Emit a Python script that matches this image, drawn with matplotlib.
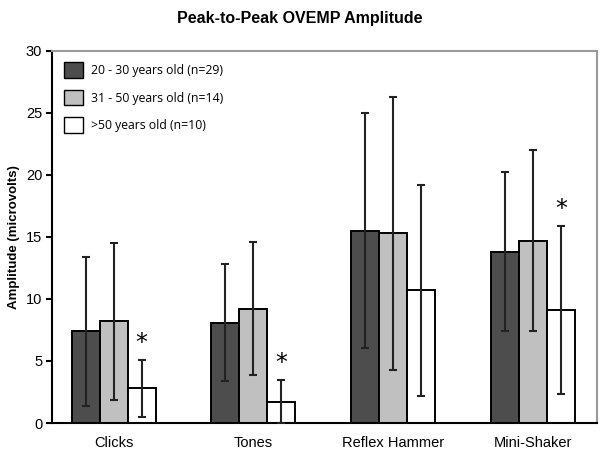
import numpy as np
import matplotlib.pyplot as plt
from matplotlib.patches import Patch

categories = ['Clicks', 'Tones', 'Reflex Hammer', 'Mini-Shaker']
groups = ['20 - 30 years old (n=29)', '31 - 50 years old (n=14)', '>50 years old (n=10)']

young = [7.4, 8.1, 15.5, 13.8]
middle = [8.2, 9.2, 15.3, 14.7]
old = [2.8, 1.7, 10.7, 9.1]

young_err = [6.0, 4.7, 9.45, 6.4]
middle_err = [6.35, 5.37, 11.0, 7.3]
old_err = [2.3, 1.8, 8.5, 6.75]

significant = [True, True, False, True]

colors = ['#4d4d4d', '#c0c0c0', '#ffffff']

fig = plt.figure(figsize=(6, 4.55), dpi=100)
ax = fig.add_axes([0.0867, 0.0703, 0.908, 0.818])

x = np.arange(len(categories))
w = 0.2
series = [young, middle, old]
errs = [young_err, middle_err, old_err]
for i, (vals, err) in enumerate(zip(series, errs)):
    pos = x + (i - 1) * w
    ax.bar(pos, vals, w, color=colors[i], edgecolor='black', linewidth=1.4, zorder=2)
    lower = np.minimum(err, vals)
    ax.errorbar(pos, vals, yerr=[lower, err], fmt='none', ecolor='#222222',
                elinewidth=1.5, capsize=3, capthick=1.5, zorder=3)

for j in range(len(categories)):
    if significant[j]:
        ax.text(x[j] + w, old[j] + old_err[j] + 0.4, '*', ha='center', va='bottom',
                fontsize=17, family='DejaVu Sans')

ax.set_xlim(-0.44, 3.455)
ax.set_ylim(0, 30)
ax.set_yticks(range(0, 31, 5))
ax.set_xticks(x)
ax.set_xticklabels(categories, family='Liberation Sans', fontsize=10.5)
ax.tick_params(axis='x', length=0, pad=9)
ax.tick_params(axis='y', direction='out', length=4, width=1.5, labelsize=10.5, pad=3)
for lab in ax.get_yticklabels():
    lab.set_family('Liberation Sans')

ax.spines['left'].set_linewidth(1.5)
ax.spines['bottom'].set_linewidth(1.5)
ax.spines['top'].set_color('#999999')
ax.spines['right'].set_color('#999999')
ax.spines['top'].set_linewidth(1.5)
ax.spines['right'].set_linewidth(1.5)

ax.set_ylabel('Amplitude (microvolts)', fontweight='bold', family='Liberation Sans',
              fontsize=9.5)
ax.yaxis.set_label_coords(-0.059, 0.5)
fig.suptitle('Peak-to-Peak OVEMP Amplitude', fontweight='bold', family='Liberation Sans',
             fontsize=11.5, y=0.975)

handles = [Patch(facecolor=c, edgecolor='black', linewidth=1.0) for c in colors]
ax.legend(handles, groups, loc='upper left', frameon=False, prop={'family': 'Open Sans', 'size': 8.8},
          handlelength=1.6, handleheight=1.6, labelspacing=0.95, bbox_to_anchor=(0.0, 1.0),
          borderaxespad=0.55, handletextpad=0.6)

fig.savefig('out.png', dpi=100)
